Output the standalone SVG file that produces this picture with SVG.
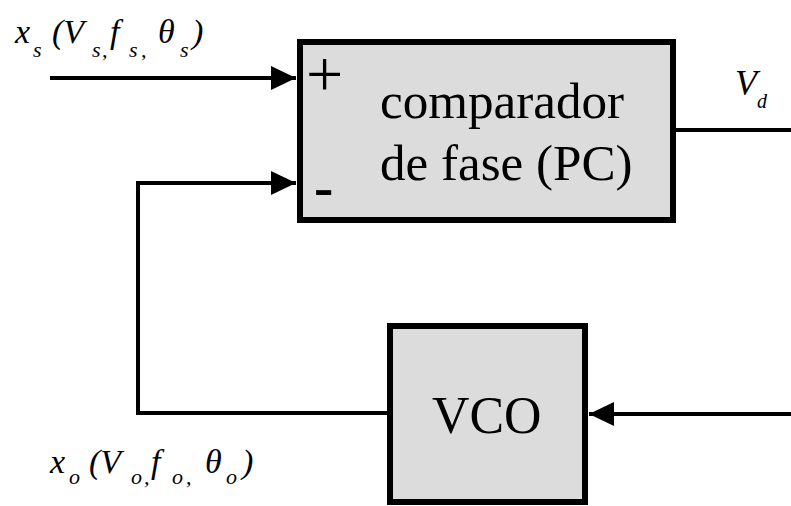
<svg xmlns="http://www.w3.org/2000/svg" width="791" height="506" viewBox="0 0 791 506">
<defs>
<marker id="arr" markerUnits="userSpaceOnUse" markerWidth="26" markerHeight="26" refX="25" refY="12" orient="auto">
<path d="M0,0 L25,12 L0,24 Z" fill="#000"/>
</marker>
</defs>
<rect width="791" height="506" fill="#fff"/>
<g id="pc">
<rect x="300" y="42" width="373" height="178" fill="#dcdcdc" stroke="#000" stroke-width="6"/>
<text transform="translate(380,118) scale(1.42)" x="0" y="0" font-family="Liberation Serif" font-size="36">comparador</text>
<text transform="translate(380,180) scale(1.42)" x="0" y="0" font-family="Liberation Serif" font-size="36">de fase (PC)</text>
<text x="306" y="96" font-family="Liberation Serif" font-size="66">+</text>
<text x="314" y="206" font-family="Liberation Serif" font-weight="bold" font-size="58">-</text>
</g>
<g id="vco">
<rect x="390" y="326" width="195" height="176" fill="#dcdcdc" stroke="#000" stroke-width="6"/>
<text transform="translate(432,433) scale(1.44)" x="0" y="0" font-family="Liberation Serif" font-size="36">VCO</text>
</g>
<g id="connectors" fill="none" stroke="#000" stroke-width="4">
<path d="M50,78 H296" marker-end="url(#arr)"/>
<path d="M390,413 H138 V183 H296" marker-end="url(#arr)"/>
<path d="M676,130 H791"/>
<path d="M791,414 H589" marker-end="url(#arr)"/>
</g>
<g id="labels">
<text font-family="Liberation Serif" font-style="italic" font-size="34"><tspan x="15" y="43">x</tspan><tspan x="33" y="57" font-size="22">s</tspan><tspan x="52" y="43">(V</tspan><tspan x="92" y="57" font-size="22">s</tspan><tspan x="102" y="57" font-size="22">,</tspan><tspan x="110" y="43">f</tspan><tspan x="129" y="57" font-size="22">s</tspan><tspan x="141" y="57" font-size="22">,</tspan><tspan x="158" y="43">θ</tspan><tspan x="180" y="57" font-size="22">s</tspan><tspan x="192" y="43">)</tspan></text>
<text font-family="Liberation Serif" font-style="italic" font-size="34"><tspan x="50" y="473">x</tspan><tspan x="69" y="484" font-size="22">o</tspan><tspan x="89" y="473">(V</tspan><tspan x="131" y="484" font-size="22">o</tspan><tspan x="144" y="484" font-size="22">,</tspan><tspan x="151" y="473">f</tspan><tspan x="172" y="484" font-size="22">o</tspan><tspan x="186" y="484" font-size="22">,</tspan><tspan x="205" y="473">θ</tspan><tspan x="226" y="484" font-size="22">o</tspan><tspan x="242" y="473">)</tspan></text>
<text x="735" y="95" font-family="Liberation Serif" font-style="italic" font-size="36">V<tspan font-size="20" dy="13">d</tspan></text>
</g>
</svg>
